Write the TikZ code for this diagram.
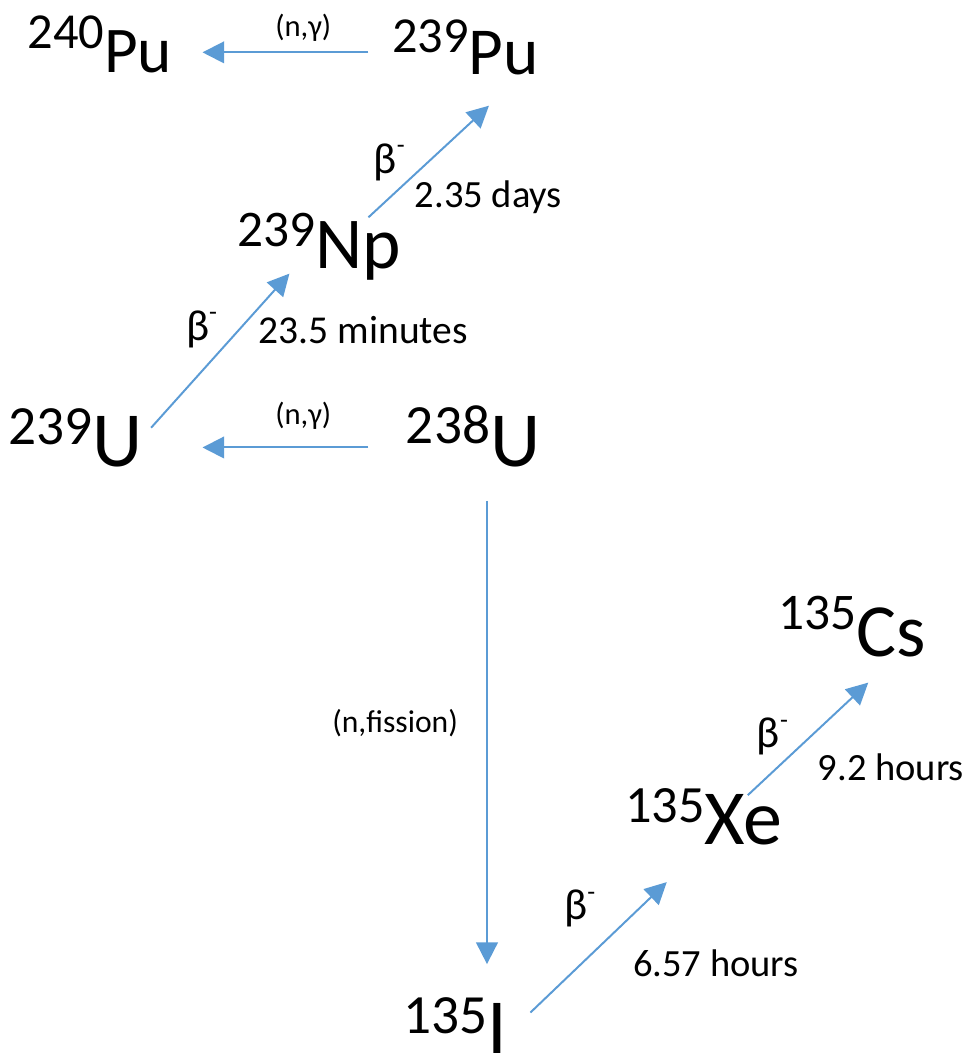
\documentclass[tikz,border=0pt]{standalone}
\usepackage{fontspec}
\setmainfont{Carlito}
\usetikzlibrary{arrows.meta}
\definecolor{decayblue}{HTML}{5B9BD5}

\begin{document}
\begin{tikzpicture}[x=1pt, y=-1pt, line width=2pt,
    flow/.style={draw=decayblue, line width=2pt, -{Triangle[width=22pt,length=22pt]}},
    iso/.style={anchor=base west, inner sep=0pt},
    lbl/.style={anchor=center, inner sep=0pt}]
  % ---- nuclide label: #1 mass number, #2 element, #3 size, #4 sup size, #5 raise ----
  \def\nuc#1#2#3#4#5{{\fontsize{#3}{#3}\selectfont\raisebox{#5pt}{\fontsize{#4}{#4}\selectfont #1}#2}}
  \def\betam#1{{\fontsize{#1}{#1}\selectfont β\raisebox{0.45em}{\fontsize{26}{26}\selectfont -}}}

  % ── nuclides (baseline, left edge) ──
  \node[iso] (pu240) at (27,73)   {\nuc{240}{Pu}{66}{51}{24}};
  \node[iso] (pu239) at (396,75)  {\nuc{239}{Pu}{68}{51}{22}};
  \node[iso] (np239) at (239,272) {\nuc{239}{Np}{74}{52}{22}};
  \node[iso] (u239)  at (8,472)   {\nuc{239}{U}{79}{56}{22}};
  \node[iso] (u238)  at (410,472) {\nuc{238}{U}{79}{56}{23}};
  \node[iso] (cs135) at (787,665) {\nuc{135}{Cs}{76}{52}{28}};
  \node[iso] (xe135) at (632,855) {\nuc{135}{Xe}{79}{53}{22}};
  \node[iso] (i135)  at (407,1066) {\nuc{135}{I}{79}{56}{20}};

  % ── arrow ends ──
  \coordinate (pu239-w) at (373,53);  \coordinate (pu240-e) at (205,53);
  \coordinate (np239-ne) at (373,220); \coordinate (pu239-sw) at (495,107);
  \coordinate (u239-ne) at (153,433);  \coordinate (np239-sw) at (293,277);
  \coordinate (u238-w) at (373,453);   \coordinate (u239-e) at (205,453);
  \coordinate (u238-s) at (493,507);   \coordinate (i135-n) at (493,976);
  \coordinate (i135-ne) at (537,1025); \coordinate (xe135-sw) at (675,893);
  \coordinate (xe135-ne) at (757,805); \coordinate (cs135-sw) at (879,691);

  % ── reactions ──
  \draw[flow] (pu239-w) -- (pu240-e);
  \draw[flow] (np239-ne) -- (pu239-sw);
  \draw[flow] (u239-ne) -- (np239-sw);
  \draw[flow] (u238-w) -- (u239-e);
  \draw[flow] (u238-s) -- (i135-n);
  \draw[flow] (i135-ne) -- (xe135-sw);
  \draw[flow] (xe135-ne) -- (cs135-sw);

  % ── labels ──
  \node[lbl,font=\fontsize{31}{36}\selectfont] (ng1) at (307,28) {(n,γ)};
  \node[lbl,font=\fontsize{31}{36}\selectfont] (ng2) at (307,421) {(n,γ)};
  \node[lbl,font=\fontsize{32}{38}\selectfont] (nfis) at (400,732) {(n,fission)};
  \node[lbl] (b1) at (394,164) {\betam{44}};
  \node[lbl] (b2) at (204,333) {\betam{44}};
  \node[lbl] (b3) at (587,920) {\betam{44}};
  \node[lbl] (b4) at (782,746) {\betam{44}};
  \node[iso,font=\fontsize{39}{46}\selectfont] (t1) at (419,210) {2.35 days};
  \node[iso,font=\fontsize{40}{48}\selectfont] (t2) at (261,348) {23.5 minutes};
  \node[iso,font=\fontsize{39}{46}\selectfont] (t3) at (640,989) {6.57 hours};
  \node[iso,font=\fontsize{39}{46}\selectfont] (t4) at (827,790) {9.2 hours};

  \path[use as bounding box] (0,0) rectangle (984,1053);
\end{tikzpicture}
\end{document}
